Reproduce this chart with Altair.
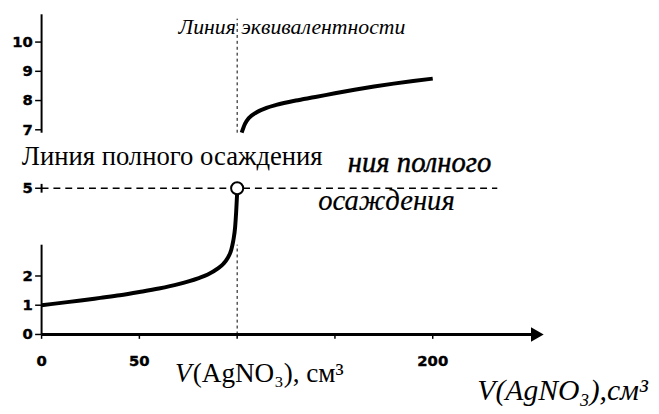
import altair as alt
import pandas as pd

# ---- data ----
vol_before = [0, 10, 20, 30, 40, 50, 60, 70, 80, 85, 90, 93, 95, 97, 98, 99, 99.5, 100]
ph_before = [1.0, 1.08, 1.16, 1.25, 1.34, 1.45, 1.57, 1.72, 1.92, 2.05, 2.25, 2.42, 2.6, 2.9, 3.2, 3.7, 4.2, 4.85]
vol_after = [102.3, 104, 106, 110, 115, 120, 130, 140, 150, 160, 170, 180, 190, 200]
ph_after = [6.9, 7.2, 7.4, 7.6, 7.75, 7.85, 8.0, 8.12, 8.25, 8.37, 8.48, 8.58, 8.67, 8.75]

y_tick_values = [0, 1, 2, 5, 7, 8, 9, 10]
y_tick_labels = ["0", "1", "2", "5", "7", "8", "9", "10"]
x_tick_values = [0, 50, 100, 150, 200]
x_label_values = [0, 50, 200]
x_label_texts = ["0", "50", "200"]

equiv_volume = 100
equiv_value = 5

# visible pieces of the vertical axis / equivalence line (value ranges)
axis_seg_from = [0, 6.9, 4.85]
axis_seg_to = [3.07, 10.95, 5.15]
equiv_seg_from = [0, 6.9]
equiv_seg_to = [3.07, 10.8]

label_main = "Линия полного осаждения"
label_italic_1 = "ния полного"
label_italic_2 = "осаждения"
label_top = "Линия эквивалентности"
xlabel_v = "V"
xlabel_rest = "(AgNO₃), см³"
xlabel_italic = "V(AgNO₃),см³"

# ---- scales ----
xs = alt.Scale(domain=[-17.17, 311.6], nice=False, zero=False)
ys = alt.Scale(domain=[-2.635, 11.08], nice=False, zero=False)

df_before = pd.DataFrame({"v": vol_before, "p": ph_before})
df_after = pd.DataFrame({"v": vol_after, "p": ph_after})
one = pd.DataFrame({"k": [0]})


def X(f):
    return alt.X(f, scale=xs, axis=None)


def Y(f):
    return alt.Y(f, scale=ys, axis=None)


def DX(v):
    return alt.datum(v, scale=xs, axis=None)


def DY(v):
    return alt.datum(v, scale=ys, axis=None)


curve_before = alt.Chart(df_before).mark_line(color="black", strokeWidth=4, interpolate="monotone").encode(
    x=X("v:Q"), y=Y("p:Q"))
curve_after = alt.Chart(df_after).mark_line(color="black", strokeWidth=4, interpolate="monotone").encode(
    x=X("v:Q"), y=Y("p:Q"))

yaxis = alt.Chart(pd.DataFrame({"a": axis_seg_from, "b": axis_seg_to})).mark_rule(
    color="black", strokeWidth=2).encode(x=DX(0), y=Y("a:Q"), y2="b:Q")

yticks = alt.Chart(pd.DataFrame({"t": y_tick_values})).mark_rule(color="black", strokeWidth=1.5).encode(
    x=DX(-3.3), x2=alt.datum(0), y=Y("t:Q"))

ylabels = alt.Chart(pd.DataFrame({"t": y_tick_values, "s": y_tick_labels})).mark_text(
    font="DejaVu Sans", fontWeight="bold", fontSize=15, align="right", baseline="middle", color="black",
    stroke="black", strokeWidth=0.4).encode(
    x=DX(-4.5), y=Y("t:Q"), text=alt.Text("s:N"))

xticks = alt.Chart(pd.DataFrame({"t": x_tick_values})).mark_rule(color="black", strokeWidth=1.5).encode(
    x=X("t:Q"), y=DY(0), y2=alt.datum(-0.15))

xlabels = alt.Chart(pd.DataFrame({"t": x_label_values, "s": x_label_texts})).mark_text(
    font="DejaVu Sans", fontWeight="bold", fontSize=15, align="center", baseline="top", color="black",
    stroke="black", strokeWidth=0.4).encode(
    x=X("t:Q"), y=DY(-0.68), text=alt.Text("s:N"))

equiv_v = alt.Chart(pd.DataFrame({"a": equiv_seg_from, "b": equiv_seg_to})).mark_rule(
    color="black", strokeWidth=1, strokeDash=[3, 3]).encode(
    x=DX(equiv_volume), y=Y("a:Q"), y2="b:Q")

equiv_h = alt.Chart(one).mark_rule(color="black", strokeWidth=1.5, strokeDash=[7, 5]).encode(
    x=DX(0), x2=alt.datum(233), y=DY(equiv_value))

xaxis = alt.Chart(one).mark_rule(color="black", strokeWidth=3).encode(
    x=DX(0), x2=alt.datum(252), y=DY(0))

arrow = alt.Chart(one).mark_point(shape="triangle-right", filled=True, color="black", size=220, opacity=1).encode(
    x=DX(253.5), y=DY(0))

circle = alt.Chart(one).mark_point(shape="circle", filled=True, fill="white", stroke="black",
                                   strokeWidth=2, size=150, opacity=1).encode(
    x=DX(equiv_volume), y=DY(equiv_value))


def txt(text, x, y, size, font="Liberation Serif", style="normal", align="left", stroke_w=0):
    props = dict(text=text, font=font, fontSize=size, fontStyle=style, align=align,
                 baseline="alphabetic", color="black")
    if stroke_w:
        props.update(stroke="black", strokeWidth=stroke_w)
    return alt.Chart(one).mark_text(**props).encode(x=DX(x), y=DY(y))


t_main = txt(label_main, -10.1, 5.78, 27)
t_it1 = txt(label_italic_1, 156.6, 5.54, 29, style="italic", stroke_w=0.45)
t_it2 = txt(label_italic_2, 141.4, 4.26, 29, style="italic", stroke_w=0.2)
t_top = txt(label_top, 186, 10.27, 22, style="italic", align="right")
t_v = txt(xlabel_v, 68.2, -1.62, 27.5, style="italic")
t_rest = txt(xlabel_rest, 77.3, -1.62, 27.5)
t_vit = txt(xlabel_italic, 222.8, -2.25, 30, style="italic")

chart = alt.layer(
    yaxis, yticks, ylabels, xticks, xlabels, equiv_v, equiv_h, xaxis, arrow,
    curve_before, curve_after, circle,
    t_main, t_it1, t_it2, t_top, t_v, t_rest, t_vit,
).properties(
    width=651, height=406, autosize=alt.AutoSizeParams(type="none"), padding=0
).configure_view(stroke=None)

chart.save("out.html", embed_options={"renderer": "svg", "actions": False})
